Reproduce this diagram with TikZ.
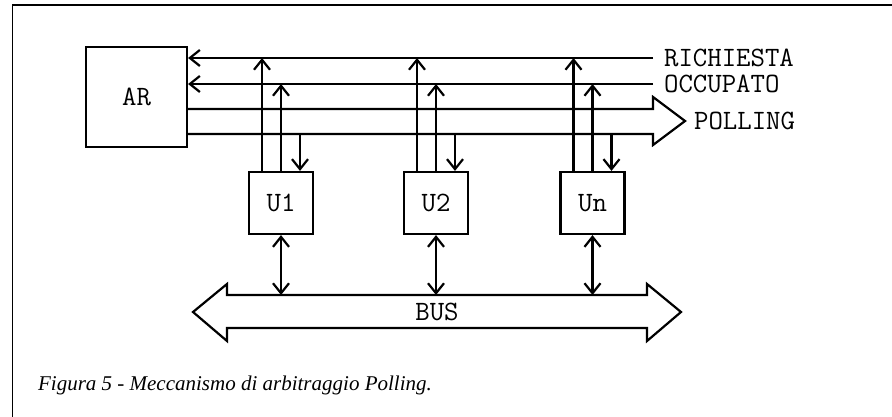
\documentclass[tikz,border=0pt]{standalone}
\usepackage{fontspec}
\setmainfont{Liberation Serif}
\usetikzlibrary{arrows.meta, positioning, calc}
\tikzset{
    unit/.style = {draw, rectangle, minimum width=64pt, minimum height=62pt, text centered, font=\ttfamily\fontsize{28}{28}\selectfont},
    sig/.style = {-{Straight Barb[length=10pt, width=16pt]}},
    bidir/.style = {{Straight Barb[length=10pt, width=16pt]}-{Straight Barb[length=10pt, width=16pt]}},
    lbl/.style = {font=\ttfamily\fontsize{28}{28}\selectfont, inner xsep=10pt, inner ysep=0pt, anchor=west}
}

\begin{document}
\begin{tikzpicture}[x=1pt, y=-1pt, line width=2.2pt]
    \useasboundingbox (0,0) rectangle (892,417);

    % Frame
    \draw[line width=1.8pt] (892,5) -- (12.5,5) -- (12.5,417);

    % Arbiter and units
    \node[unit, minimum width=101pt, minimum height=100pt] (AR) at (136.5,97) {AR};
    \node[unit] (U1) at (281,203) {U1};
    \node[unit] (U2) at (436,203) {U2};
    \node[unit] (Un) at (592.5,203) {Un};

    % Control lines
    \node[lbl] (ric) at (653,58) {RICHIESTA};
    \node[lbl] (occ) at (653,84) {OCCUPATO};
    \draw[sig] (ric.west) -- (AR.east |- ric.west);
    \draw[sig] (occ.west) -- (AR.east |- occ.west);

    % Polling arrow
    \node[lbl, inner xsep=8pt] (pol) at (685,121) {POLLING};
    \coordinate (pt) at (653,109);
    \coordinate (pb) at (653,134);
    \draw (AR.east |- pt) -- (pt) -- ++(0,-12) -- (pol.west) -- ($(pb)+(0,11)$) -- (pb) -- (AR.east |- pb);

    % Bus
    \node[font=\ttfamily\fontsize{28}{28}\selectfont] (bus) at (437,312) {BUS};
    \coordinate (bt) at (437,295);
    \draw (227,295) -- (647,295) -- (647,284) -- (681,312) -- (647,341) -- (647,328)
        -- (227,328) -- (227,341) -- (193,312) -- (227,284) -- cycle;

    % Unit connections
    \foreach \u in {U1,U2,Un} {
        \draw[sig] ([xshift=-19pt]\u.north) -- ([xshift=-19pt]\u.north |- ric.west);
        \draw[sig] (\u.north) -- (\u.north |- occ.west);
        \draw[sig] ([xshift=19pt]\u.north |- pb) -- ([xshift=19pt]\u.north);
        \draw[bidir] (\u.south) -- (\u.south |- bt);
    }

    % Caption
    \node[anchor=base west, inner sep=0pt, font=\itshape\fontsize{21}{21}\selectfont] (cap) at (37,390) {Figura 5 - Meccanismo di arbitraggio Polling.};
\end{tikzpicture}
\end{document}
